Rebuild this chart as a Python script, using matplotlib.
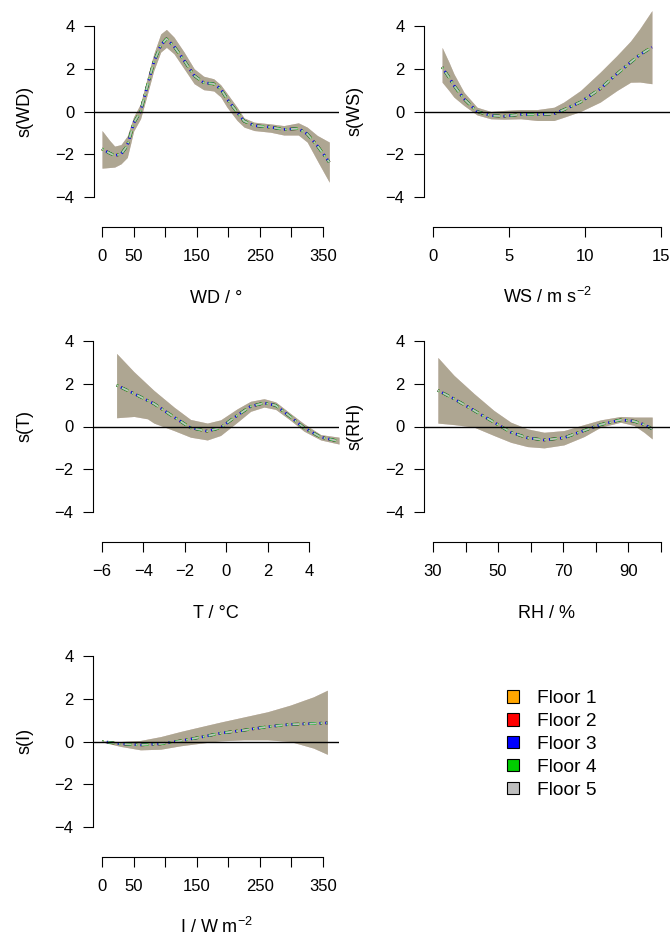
import matplotlib.pyplot as plt
from matplotlib.patches import Patch

plt.rcParams['font.family'] = ['Liberation Sans', 'DejaVu Sans']
plt.rcParams['mathtext.fontset'] = 'custom'
plt.rcParams['mathtext.rm'] = 'Liberation Sans'
plt.rcParams['mathtext.default'] = 'regular'
plt.rcParams['lines.scale_dashes'] = False

floors = ['Floor 1', 'Floor 2', 'Floor 3', 'Floor 4', 'Floor 5']
floor_colors = ['#FFA500', '#FF0000', '#0000FF', '#00CD00', '#BEBEBE']

# wind direction smooth
wd_x = [0, 12, 20, 30, 40, 45, 50, 61, 72, 82, 93, 102, 114, 130, 146, 161,
        177, 188, 198, 214, 225, 241, 267, 288, 311, 325, 341, 360]
wd_fit = [-1.75, -1.95, -2.06, -2.0, -1.6, -1.1, -0.55, 0.0, 1.22, 2.31, 3.09, 3.4, 3.05, 2.39,
          1.68, 1.35, 1.29, 1.06, 0.59, -0.03, -0.45, -0.66, -0.73, -0.84, -0.8, -1.05, -1.6, -2.37]
wd_lo = [-2.65, -2.62, -2.6, -2.45, -2.15, -1.55, -0.92, -0.34, 0.83, 1.92, 2.78, 3.0, 2.7, 2.0,
         1.3, 1.02, 0.96, 0.68, 0.2, -0.42, -0.73, -0.89, -0.97, -1.1, -1.1, -1.43, -2.3, -3.31]
wd_hi = [-0.89, -1.35, -1.62, -1.55, -1.15, -0.7, -0.25, 0.36, 1.61, 2.7, 3.63, 3.84, 3.48, 2.78,
         2.0, 1.65, 1.53, 1.25, 0.85, 0.2, -0.3, -0.5, -0.58, -0.66, -0.53, -0.73, -1.12, -1.43]

# wind speed smooth
ws_x = [0.6, 1.05, 1.38, 2.04, 2.9, 3.8, 4.67, 5.77, 6.86, 7.96, 8.6, 9.7, 11.0, 12.1, 13.0, 13.6, 14.4]
ws_fit = [2.07, 1.6, 1.22, 0.59, 0.0, -0.19, -0.22, -0.14, -0.14, -0.11, 0.08, 0.44, 1.06, 1.76, 2.3, 2.65, 3.01]
ws_lo = [1.37, 0.98, 0.67, 0.28, -0.16, -0.34, -0.36, -0.34, -0.42, -0.42, -0.27, 0.0, 0.44, 0.98, 1.37, 1.38, 1.3]
ws_hi = [3.0, 2.31, 1.76, 0.9, 0.2, 0.0, 0.05, 0.09, 0.09, 0.2, 0.44, 0.98, 1.84, 2.62, 3.3, 3.87, 4.72]

# temperature smooth
t_x = [-5.29, -4.45, -3.8, -3.49, -2.52, -1.72, -0.91, -0.27, 0.54, 1.18, 1.83, 2.39, 3.12, 3.76, 4.57, 5.45]
t_fit = [1.93, 1.54, 1.22, 1.07, 0.44, -0.06, -0.22, -0.06, 0.52, 0.94, 1.1, 0.99, 0.44, -0.06, -0.5, -0.69]
t_lo = [0.41, 0.47, 0.36, 0.16, -0.19, -0.5, -0.63, -0.42, 0.2, 0.71, 0.91, 0.8, 0.28, -0.22, -0.63, -0.82]
t_hi = [3.42, 2.56, 1.97, 1.69, 0.91, 0.33, 0.16, 0.31, 0.83, 1.18, 1.3, 1.15, 0.6, 0.13, -0.38, -0.5]

# relative humidity smooth
rh_x = [31.5, 36.4, 42.6, 48.7, 53.9, 59, 64.1, 70.2, 76.4, 81.5, 87.6, 91.7, 94.8, 97.3]
rh_fit = [1.69, 1.3, 0.75, 0.2, -0.27, -0.53, -0.63, -0.53, -0.19, 0.09, 0.31, 0.25, 0.09, -0.11]
rh_lo = [0.16, 0.09, -0.03, -0.42, -0.74, -0.94, -1.0, -0.86, -0.47, -0.03, 0.2, 0.05, -0.27, -0.58]
rh_hi = [3.23, 2.4, 1.54, 0.75, 0.2, -0.11, -0.27, -0.19, 0.09, 0.31, 0.47, 0.44, 0.44, 0.44]

# irradiance smooth
i_x = [0, 29.5, 61, 93, 124.5, 156, 188, 225, 262, 298, 335, 357]
i_fit = [0.0, -0.11, -0.16, -0.11, 0.03, 0.2, 0.39, 0.53, 0.69, 0.8, 0.84, 0.87]
i_lo = [-0.02, -0.23, -0.39, -0.36, -0.2, -0.08, 0.03, 0.08, 0.08, 0.0, -0.31, -0.6]
i_hi = [0.02, 0.0, 0.05, 0.23, 0.47, 0.69, 0.91, 1.15, 1.39, 1.7, 2.09, 2.4]

deg_ticks = [0, 50, 100, 150, 200, 250, 300, 350]
deg_labels = ['0', '50', '', '150', '', '250', '', '350']
ws_ticks = [0, 5, 10, 15]
ws_labels = ['0', '5', '10', '15']
t_ticks = [-6, -4, -2, 0, 2, 4]
t_labels = ['\u22126', '\u22124', '\u22122', '0', '2', '4']
rh_ticks = [30, 40, 50, 60, 70, 80, 90, 100]
rh_labels = ['30', '', '50', '', '70', '', '90', '']
y_ticks = [-4, -2, 0, 2, 4]
y_labels = ['\u22124', '\u22122', '0', '2', '4']

W, H = 672, 939
fig = plt.figure(figsize=(W / 100, H / 100), dpi=100)

def fx(px):
    return px / W

def fy(py):
    return 1 - py / H

# (x, fit, lo, hi, ticks, labels, xlim, left px, right px, y of "4" px, xlabel, ylabel)
panels = [
    (wd_x, wd_fit, wd_lo, wd_hi, deg_ticks, deg_labels, (-12.7, 375.4), 94, 339, 26,
     'WD / \u00b0', 's(WD)'),
    (ws_x, ws_fit, ws_lo, ws_hi, ws_ticks, ws_labels, (-0.59, 15.59), 424, 670, 26,
     'WS / m s$^{-2}$', 's(WS)'),
    (t_x, t_fit, t_lo, t_hi, t_ticks, t_labels, (-6.43, 5.45), 93, 339, 341,
     'T / \u00b0C', 's(T)'),
    (rh_x, rh_fit, rh_lo, rh_hi, rh_ticks, rh_labels, (27.24, 102.77), 424, 670, 341,
     'RH / %', 's(RH)'),
    (i_x, i_fit, i_lo, i_hi, deg_ticks, deg_labels, (-14.25, 375.4), 93, 339, 656,
     'I / W m$^{-2}$', 's(I)'),
]

fill_order = [0, 2, 1, 3, 4]   # floor index drawing order of the bands
line_offset = [0.6, 0.3, 0.8, 0.0, 0.0]
unit = 21.375  # px per y unit
for x, fit, lo, hi, ticks, labels, xlim, left, right, y4, xlab, ylab in panels:
    top = y4 - 0.8 * unit
    bottom = y4 + 8.8 * unit
    ax = fig.add_axes([fx(left), fy(bottom), (right - left) / W, (bottom - top) / H])
    ax.set_xlim(xlim)
    ax.set_ylim(-4.8, 4.8)
    for k in fill_order:
        ax.fill_between(x, lo, hi, color=floor_colors[k], alpha=0.2, linewidth=0)
    for k, c in enumerate(floor_colors):
        lw = 1.3 if k == 4 else 1.9
        ax.plot(x, fit, color=c, lw=lw, linestyle=(line_offset[k], (1.2, 3, 5, 3)))
    ax.axhline(0, color='black', lw=1)

    for s in ['top', 'right']:
        ax.spines[s].set_visible(False)
    ax.spines['bottom'].set_position(('outward', 9.3))
    ax.spines['bottom'].set_bounds(ticks[0], ticks[-1])
    ax.spines['left'].set_bounds(-4, 4)
    ax.set_xticks(ticks)
    ax.set_xticklabels(labels)
    ax.set_yticks(y_ticks)
    ax.set_yticklabels(y_labels)
    ax.tick_params(direction='out', length=7, width=0.8, labelsize=12, pad=7)
    ax.tick_params(axis='x', pad=9)

    cx = (left + right) / 2
    fig.text(fx(cx), fy(y4 + 277), xlab, ha='center', va='baseline', fontsize=13)
    lx = 25 if left < 200 else 355
    fig.text(fx(lx), fy(y4 + 85), ylab, ha='center', va='center', rotation=90, fontsize=13)

handles = [Patch(facecolor=c, edgecolor='black', linewidth=0.8) for c in floor_colors]
fig.legend(handles, floors, loc='upper left', bbox_to_anchor=(fx(507), fy(690)),
           frameon=False, fontsize=13.8, handlelength=0.63, handleheight=0.63,
           handletextpad=0.94, labelspacing=0.31, borderpad=0, borderaxespad=0)

fig.savefig('out.png', dpi=100)
